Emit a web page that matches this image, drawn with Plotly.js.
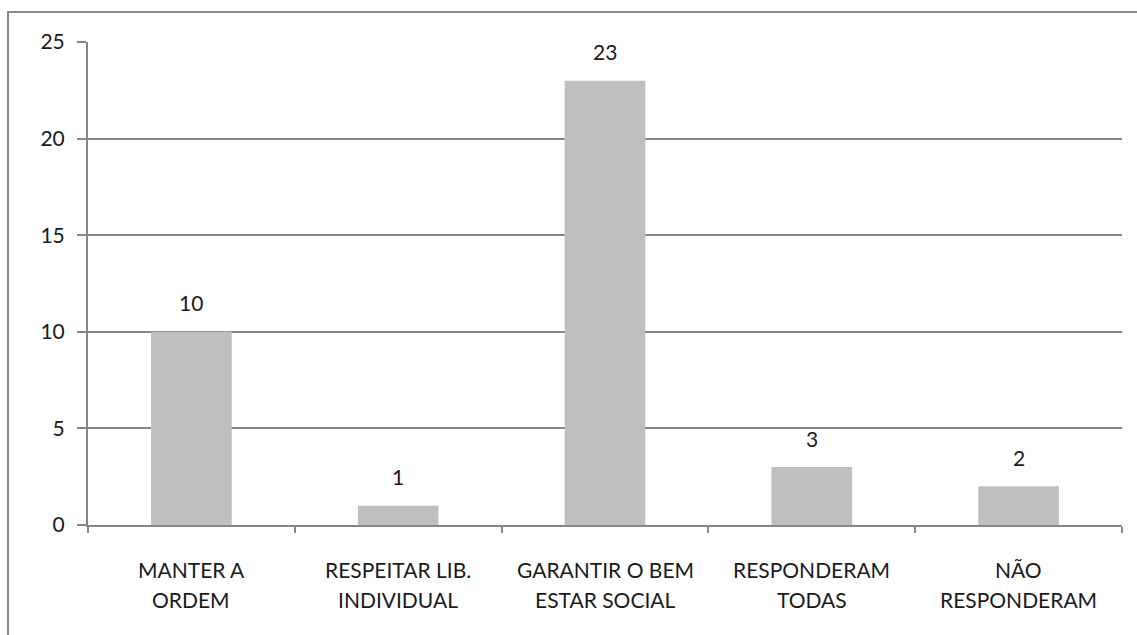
<!DOCTYPE html>
<html>
<head>
<meta charset="utf-8">
<script src="https://cdn.plot.ly/plotly-3.0.1.min.js"></script>
<style>
html,body{margin:0;padding:0;background:#fff;}
#frame{position:absolute;left:7px;top:11px;width:1130px;height:624px;border-top:2px solid #888;border-left:2px solid #888;box-sizing:border-box;pointer-events:none;z-index:5;}
#chart{position:absolute;left:0;top:0;width:1137px;height:635px;}
</style>
</head>
<body>
<div id="chart"></div>
<div id="frame"></div>
<script>
const categories = ["MANTER A\nORDEM", "RESPEITAR LIB.\nINDIVIDUAL", "GARANTIR O BEM\nESTAR SOCIAL", "RESPONDERAM\nTODAS", "NÃO\nRESPONDERAM"];
const values = [10, 1, 23, 3, 2];
const yTicks = [0, 5, 10, 15, 20, 25];

const font = {family: "Lato, 'Open Sans', sans-serif", size: 21, color: "#1a1a1a", weight: 400};

const trace = {
  type: "bar",
  x: categories,
  y: values,
  marker: {color: "#BFBFBF"},
  hoverinfo: "none"
};

const annotations = [];
categories.forEach((c, i) => {
  annotations.push({
    x: c, y: values[i], xref: "x", yref: "y",
    text: String(values[i]), showarrow: false,
    yanchor: "middle", yshift: 29, font: font
  });
  c.split("\n").forEach((line, j) => {
    annotations.push({
      x: c, y: 0, xref: "x", yref: "paper",
      text: line, showarrow: false,
      yanchor: "middle", yshift: -44 - 30 * j, font: font
    });
  });
});

const layout = {
  width: 1137, height: 635,
  margin: {l: 88, r: 15, t: 42, b: 110},
  paper_bgcolor: "#fff", plot_bgcolor: "#fff",
  font: font,
  bargap: 0.61,
  showlegend: false,
  xaxis: {
    type: "category",
    showline: true, linecolor: "#868686", linewidth: 2,
    ticks: "outside", tickson: "boundaries", ticklen: 6, tickcolor: "#868686", tickwidth: 2,
    showgrid: false, zeroline: false,
    showticklabels: false
  },
  yaxis: {
    range: [0, 25],
    tickvals: yTicks,
    showgrid: true, gridcolor: "#868686", gridwidth: 2,
    showline: true, linecolor: "#868686", linewidth: 2,
    ticks: "outside", ticklen: 9, tickcolor: "#868686", tickwidth: 2,
    zeroline: false,
    tickfont: font, ticklabelstandoff: 8
  },
  annotations: annotations
};

Plotly.newPlot("chart", [trace], layout, {displayModeBar: false, staticPlot: true});
</script>
</body>
</html>
